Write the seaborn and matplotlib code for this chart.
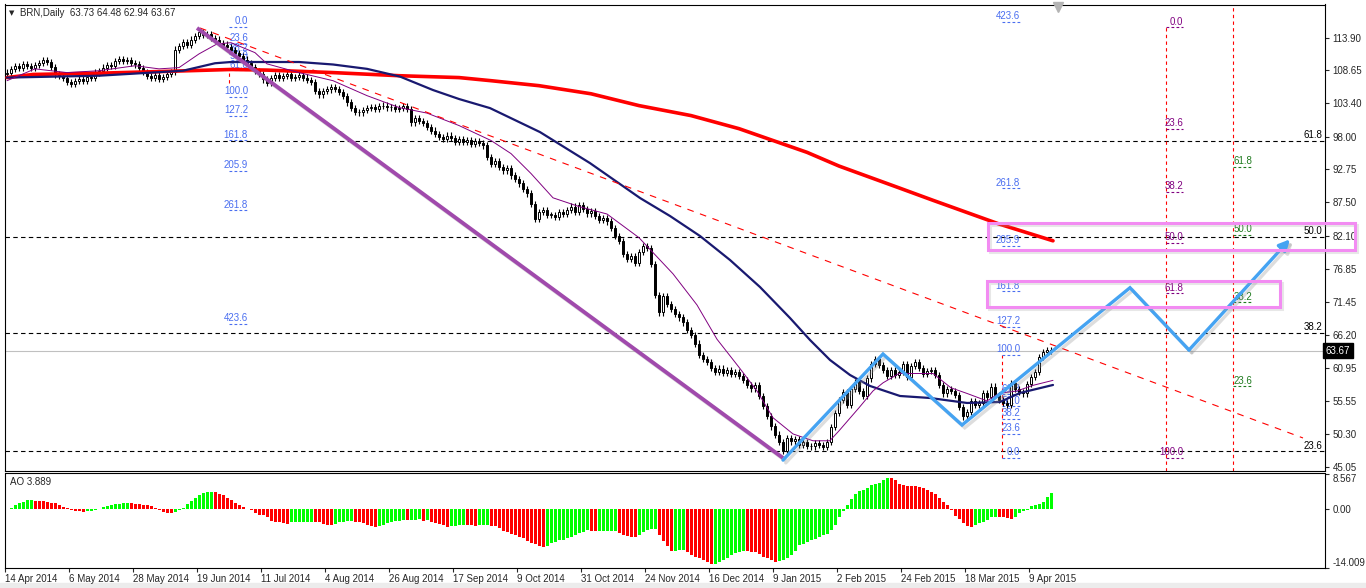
import numpy as np
import matplotlib
matplotlib.use("Agg")
import matplotlib.pyplot as plt
import matplotlib.patheffects as pe
from matplotlib.patches import Rectangle
from matplotlib.transforms import blended_transform_factory
import seaborn as sns

# ------------------ DATA ------------------
# daily closes (bar 0 = 14 Apr 2014), open of each bar = previous close
first_open = 108.1
closes = [
    108.3, 108.9, 109.4, 109.1, 109.6, 109.3, 109.0, 109.5, 109.8, 110.3, 110.0, 109.2, 108.0, 107.8, 107.4, 106.8,
    106.5, 106.9, 107.3, 107.0, 107.6, 107.4, 108.3, 108.6, 109.1, 109.5, 109.3, 110.2, 110.5, 110.1, 110.3, 109.9,
    109.6, 109.0, 108.4, 107.8, 107.5, 107.9, 107.3, 107.6, 108.1, 108.4, 112.0, 112.6, 113.2, 112.8, 113.6, 114.2,
    114.8, 114.3, 114.5, 113.9, 113.6, 113.0, 112.8, 112.4, 111.9, 111.5, 111.0, 110.4, 109.8, 109.2, 108.6, 108.1,
    107.2, 106.6, 107.4, 107.9, 107.5, 107.8, 108.0, 107.4, 107.6, 107.9, 107.5, 107.1, 106.8, 105.4, 104.8, 105.3,
    105.6, 106.0, 105.7, 105.2, 104.6, 103.5, 102.6, 102.0, 101.9, 102.3, 102.6, 102.8, 102.5, 102.9, 103.0, 102.7,
    102.8, 102.4, 102.6, 102.9, 102.5, 100.3, 101.0, 100.5, 100.2, 99.6, 99.0, 98.5, 98.0, 97.6, 98.2, 97.8,
    97.2, 97.6, 97.1, 97.5, 96.9, 97.3, 97.0, 96.6, 94.8, 93.6, 94.1, 93.2, 92.6, 93.0, 91.8, 91.2,
    90.5, 89.6, 88.9, 87.2, 84.8, 85.9, 86.3, 85.5, 85.5, 85.2, 85.9, 85.6, 86.3, 86.8, 86.0, 87.1,
    86.4, 85.7, 86.1, 85.3, 84.7, 85.0, 84.4, 83.4, 82.1, 81.3, 79.2, 78.4, 78.9, 77.8, 79.5, 80.4,
    80.1, 77.6, 72.6, 69.8, 72.4, 71.2, 70.4, 69.6, 69.0, 68.2, 67.0, 66.2, 64.8, 63.0, 62.3, 61.8,
    60.9, 60.2, 60.8, 60.1, 60.5, 59.9, 60.3, 59.6, 58.9, 58.2, 57.6, 58.1, 56.4, 54.8, 53.2, 51.5,
    50.2, 49.0, 47.6, 49.6, 49.1, 49.5, 48.6, 49.0, 48.4, 48.3, 48.9, 48.5, 48.2, 49.0, 51.4, 53.6,
    55.8, 57.0, 55.0, 57.5, 58.6, 57.2, 56.4, 59.2, 61.5, 62.3, 61.4, 60.6, 59.6, 60.5, 59.7, 60.3,
    61.5, 59.4, 61.2, 61.9, 60.9, 60.0, 60.4, 60.6, 59.7, 58.2, 56.8, 57.5, 57.2, 56.6, 54.6, 53.1,
    53.8, 55.6, 54.9, 55.3, 56.9, 56.2, 57.9, 56.5, 55.8, 55.3, 55.0, 58.4, 57.5, 57.0, 56.8,
    58.3, 59.4, 60.2, 62.6, 63.4, 63.73, 63.67,
]

# Awesome Oscillator, one value per bar
ao_values = [
    0.09, 0.37, 0.92, 1.38, 1.74, 2.11, 2.15, 2.02, 1.97, 1.93, 1.74, 1.56, 1.47, 1.10, 0.55, 0.28,
    -0.28, -0.46, -0.55, -0.73, -0.55, -0.50, -0.28, 0.05, 0.55, 0.87, 1.01, 1.19, 1.28, 1.38, 1.42, 1.38,
    1.28, 1.24, 1.10, 1.01, 0.73, 0.28, -0.25, -0.70, -0.90, -0.92, -0.65, -0.10, 0.35, 1.20, 1.90, 2.70,
    3.40, 3.90, 4.05, 4.10, 4.05, 3.75, 3.30, 2.80, 2.20, 1.60, 1.10, 0.60, 0.10, -0.20, -0.90, -1.30,
    -1.50, -2.00, -2.80, -3.00, -3.20, -3.40, -3.45, -3.20, -3.17, -3.14, -3.10, -3.05, -3.00, -3.10, -3.20, -3.55,
    -3.75, -3.80, -3.55, -3.20, -3.00, -2.95, -2.85, -3.00, -3.20, -3.40, -3.85, -4.00, -4.20, -4.10, -3.85, -3.40,
    -3.00, -2.85, -2.75, -2.65, -2.70, -2.60, -2.50, -2.45, -2.75, -2.70, -3.00, -3.40, -3.65, -3.85, -4.20, -4.15,
    -4.00, -3.85, -3.80, -3.85, -3.90, -3.95, -3.90, -3.85, -3.80, -3.95, -4.10, -4.60, -5.20, -5.60, -6.00, -6.20,
    -6.60, -7.00, -7.70, -8.10, -8.35, -8.80, -9.00, -8.95, -8.20, -7.80, -7.50, -7.35, -7.00, -6.60, -6.20, -5.80,
    -5.40, -5.05, -5.15, -5.30, -5.25, -5.22, -5.20, -5.18, -5.15, -5.70, -6.20, -6.50, -6.60, -6.80, -6.20, -5.40,
    -5.05, -4.85, -4.70, -6.20, -7.60, -8.80, -10.00, -9.95, -9.90, -9.85, -10.30, -10.90, -11.40, -11.80, -12.30, -12.70,
    -13.10, -13.05, -12.60, -12.10, -11.70, -11.00, -10.50, -10.20, -10.00, -10.10, -10.20, -10.35, -10.70, -11.40, -11.70, -12.10,
    -12.60, -12.50, -12.30, -11.70, -11.00, -10.10, -8.60, -8.35, -8.00, -7.50, -7.20, -6.80, -6.20, -6.00, -5.10, -3.85,
    -1.85, -0.35, 1.10, 2.55, 3.75, 4.30, 4.50, 5.00, 5.70, 5.95, 6.30, 7.05, 7.55, 7.45, 6.90, 5.95,
    5.70, 5.65, 5.55, 5.50, 5.30, 5.15, 4.70, 4.10, 3.60, 2.80, 1.75, 1.00, -0.10, -1.60, -2.45, -3.25,
    -4.00, -4.20, -3.80, -3.40, -3.00, -2.60, -2.00, -1.85, -1.90, -1.95, -2.20, -2.40, -1.80, -1.00, -0.50, -0.10,
    0.70, 0.95, 1.35, 1.75, 2.95, 3.889,
]

# moving averages (bar index, price)
red_ma_x = [0, 6.5, 23, 40, 56, 65, 81.5, 98, 113, 121, 133, 146, 158, 171, 183, 191.5, 200, 208, 223, 231.5, 248, 261.5]
red_ma_y = [107.5, 108.0, 108.2, 108.5, 108.8, 108.7, 108.3, 107.8, 107.5, 107.0, 106.2, 104.9, 103.0, 101.4, 99.3,
            97.4, 95.5, 93.3, 89.8, 87.8, 84.0, 81.3]
navy_ma_x = [0, 23, 44, 48, 52, 56, 62, 73, 81.5, 90, 98.25, 106.5, 113, 120.75, 133.25, 145.75, 158.25, 165.75,
             173.25, 180.75, 188.25, 195.75, 200.75, 205.75, 210.75, 215.75, 223.25, 230.75, 240, 248.25, 253.25,
             261.5]
navy_ma_y = [107.5, 107.8, 108.6, 109.2, 109.8, 110.0, 110.0, 110.0, 109.6, 108.9, 107.66, 105.5, 104.06, 102.6,
             98.75, 93.77, 88.17, 85.28, 82.07, 78.22, 73.88, 68.91, 65.38, 62.17, 59.76, 58.0, 56.39, 56.07, 55.27,
             55.43, 56.88, 58.16]
purple_ma_x = [0, 7, 15, 23, 32, 38, 43, 48, 52.5, 56, 62, 65, 73, 81.5, 90, 98, 105, 113, 121, 126, 131, 136.5, 143,
               150, 158, 166.5, 172.5, 177.5, 183, 187.5, 191.5, 196.5, 201.5, 205.7, 208, 213, 216.5, 219, 223,
               231.5, 236, 240, 245, 248, 252.5, 256.5, 261.5]
purple_ma_y = [107.0, 108.9, 108.3, 108.6, 109.4, 108.9, 109.1, 111.3, 112.9, 113.1, 111.5, 109.7, 108.3, 107.0,
               104.6, 102.7, 101.8, 99.8, 97.4, 95.3, 92.1, 88.2, 86.8, 85.6, 81.8, 76.0, 71.0, 65.5, 61.0, 57.2,
               52.9, 50.3, 49.2, 49.2, 50.8, 54.5, 57.2, 58.5, 60.0, 60.0, 57.7, 56.8, 55.6, 56.8, 57.2, 58.1, 58.9]

# drawn objects (bar index, price)
trend_x = [48.25, 324.0]
trend_y = [115.46, 49.65]
swing_x = [47.5, 194.0]
swing_y = [115.46, 46.44]
zigzag_x = [194.0, 219.0, 238.75, 280.75, 295.5, 320.75]
zigzag_y = [46.1, 63.13, 51.73, 73.77, 63.77, 81.54]
box_upper = [245.25, 337.0, 79.8, 84.13]   # x0, x1, y0, y1
box_lower = [245.0, 318.25, 70.68, 74.85]

# fibonacci tools: levels, price at 0 %, price at 100 %, x of start / end of label stub
fib_long = ["0.0", "23.6", "38.2", "50.0", "61.8", "100.0", "127.2", "161.8", "205.9", "261.8", "423.6"]
fib_short = ["0.0", "23.6", "38.2", "50.0", "61.8", "100.0"]
fib_mid = ["23.6", "38.2", "50.0", "61.8"]
fib_a = (115.62, 104.38, 55.5, 60.25)
fib_b = (46.44, 62.97, 248.7, 253.25)
fib_c = (115.57, 46.44, 289.7, 294.0)
fib_d = (36.16, 128.46, 306.5, 311.25)
fib_e = (16.7, 147.2)

date_bars = [0, 16, 32, 48, 64, 80, 96, 112, 128, 144, 160, 176, 192, 208, 224, 240, 256]
date_labels = ["14 Apr 2014", "6 May 2014", "28 May 2014", "19 Jun 2014", "11 Jul 2014", "4 Aug 2014",
               "26 Aug 2014", "17 Sep 2014", "9 Oct 2014", "31 Oct 2014", "24 Nov 2014", "16 Dec 2014",
               "9 Jan 2015", "2 Feb 2015", "24 Feb 2015", "18 Mar 2015", "9 Apr 2015"]
price_ticks = [113.90, 108.65, 103.40, 98.00, 92.75, 87.50, 82.10, 76.85, 71.45, 66.20, 60.95, 55.55, 50.30, 45.05]
price_labels = ["113.90", "108.65", "103.40", "98.00", "92.75", "87.50", "82.10", "76.85", "71.45", "66.20",
                "60.95", "55.55", "50.30", "45.05"]
ao_ticks = [8.567, 0.0, -14.009]
ao_labels = ["8.567", "0.00", "-14.009"]
last_price = 63.67

# ------------------ STYLE ------------------
sns.set_style("white")
plt.rcParams['font.family'] = ['Liberation Sans', 'DejaVu Sans']
plt.rcParams['font.size'] = 7

W, H = 1366, 588
fig = plt.figure(figsize=(W / 100, H / 100), dpi=100)
fig.patch.set_facecolor("white")


def fx(px):
    return px / W


def fy(py):
    return 1 - py / H


ax = fig.add_axes([fx(5), fy(471), fx(1325) - fx(5), fy(4.5) - fy(471)])
ax2 = fig.add_axes([fx(5), fy(567.5), fx(1325) - fx(5), fy(473.5) - fy(567.5)])

xmin, xmax = -0.5, 329.5
ax.set_xlim(xmin, xmax)
ax.set_ylim(44.35, 119.23)
ax2.set_xlim(xmin, xmax)
ax2.set_ylim(-14.009, 8.567)

for a in (ax, ax2):
    a.set_facecolor("white")
    for s in a.spines.values():
        s.set_color("black")
        s.set_linewidth(0.8)

shadow = [pe.SimpleLineShadow(offset=(2, -2), shadow_color="#909090", alpha=0.3), pe.Normal()]

# ------------------ LEVEL LINES ------------------
ax.axhline(last_price, color="#c0c0c0", lw=0.8, zorder=1)
for lab in fib_mid:
    p = fib_e[0] + float(lab) / 100 * (fib_e[1] - fib_e[0])
    ax.axhline(p, color="black", lw=0.8, ls=(0, (4, 3)), zorder=1)
    ax.annotate(lab, (328.8, p), xytext=(0, 0.5), textcoords="offset points",
                ha="right", va="bottom", color="black", zorder=2)

red_dash = (0, (3, 3))
ax.vlines(fib_a[2], 106.6, 108.7, color="red", lw=0.8, linestyles=[red_dash], zorder=1)
ax.vlines(fib_b[2], fib_b[0], fib_b[1], color="red", lw=0.8, linestyles=[red_dash], zorder=1)
ax.vlines(fib_c[2], 44.35, fib_c[0], color="red", lw=0.8, linestyles=[red_dash], zorder=1)
ax.vlines(fib_d[2], 44.35, 119.23, color="red", lw=0.8, linestyles=[red_dash], zorder=1)


def draw_fib(levels, tool, color):
    p0, p100, x0, x1 = tool
    for lab in levels:
        p = p0 + float(lab) / 100 * (p100 - p0)
        ax.hlines(p, x0, x1, color=color, lw=0.8, linestyles=[(0, (2.5, 2))], zorder=2)
        ax.annotate(lab, (x1, p), xytext=(0, 0.5), textcoords="offset points",
                    ha="right", va="bottom", color=color, zorder=2)


draw_fib(fib_long, fib_a, "#4a6ef0")
draw_fib(fib_long, fib_b, "#4a6ef0")
draw_fib(fib_short, fib_c, "#800080")
draw_fib(fib_mid, fib_d, "#1f7a1f")

# ------------------ CANDLES ------------------
c = np.array(closes)
o = np.concatenate([[first_open], c[:-1]])
x = np.arange(len(c))
lo = np.minimum(o, c)
hi = np.maximum(o, c)
up = c >= o
ax.vlines(x, lo - 0.5, hi + 0.5, color="black", lw=0.8, zorder=3)
ax.bar(x, np.maximum(hi - lo, 0.1), bottom=lo, width=0.72,
       color=np.where(up, "white", "black"), edgecolor="black", linewidth=0.7, zorder=4)

# ------------------ MOVING AVERAGES ------------------
sns.lineplot(x=red_ma_x, y=red_ma_y, ax=ax, color="#ff0000", linewidth=2.6, estimator=None, sort=False, zorder=5)
sns.lineplot(x=navy_ma_x, y=navy_ma_y, ax=ax, color="#191970", linewidth=1.6, estimator=None, sort=False, zorder=5)
sns.lineplot(x=purple_ma_x, y=purple_ma_y, ax=ax, color="#800080", linewidth=0.7, estimator=None, sort=False, zorder=5)

# ------------------ DRAWINGS ------------------
ax.plot(trend_x, trend_y, color="red", lw=0.8, ls=(0, (6, 6)), zorder=5)
ax.plot(swing_x, swing_y, color="#a04aac", lw=2.8, solid_capstyle="butt", path_effects=shadow, zorder=7)

blue = "#45a3f2"
ax.plot(zigzag_x[:-1], zigzag_y[:-1], color=blue, lw=2.4, solid_joinstyle="miter", path_effects=shadow, zorder=8)
arr = ax.annotate("", xy=(zigzag_x[-1], zigzag_y[-1]), xytext=(zigzag_x[-2], zigzag_y[-2]),
                  arrowprops=dict(arrowstyle="-|>,head_length=0.9,head_width=0.45", color=blue, lw=2.4,
                                  shrinkA=0, shrinkB=0), zorder=8)
arr.arrow_patch.set_path_effects(shadow)

box_shadow = [pe.SimpleLineShadow(offset=(1.5, -1.5), shadow_color="#a0a0a0", alpha=0.25), pe.Normal()]
for bx in (box_upper, box_lower):
    r = Rectangle((bx[0], bx[2]), bx[1] - bx[0], bx[3] - bx[2], fill=False, edgecolor="#f28cf2", lw=2.2,
                  clip_on=False, zorder=9, path_effects=box_shadow)
    ax.add_patch(r)

# ------------------ AXES / LABELS ------------------
ax.set_xticks([])
ax.yaxis.tick_right()
ax.set_yticks(price_ticks)
ax.set_yticklabels(price_labels)
ax.tick_params(axis="y", right=True, left=False, direction="out", length=3, width=0.8, pad=2.5, labelsize=7)

trans = blended_transform_factory(ax.transAxes, ax.transData)
ax.text(1.0007, last_price, "63.67", transform=trans, ha="left", va="center", color="white", fontsize=7,
        bbox=dict(boxstyle="square,pad=0.25", fc="black", ec="black"), clip_on=False, zorder=10)
ax.plot([262.75], [118.75], marker="v", ms=7, color="#b4b4b4", clip_on=False, zorder=10)

colors = ["#00ff00"] + ["#00ff00" if ao_values[i] > ao_values[i - 1] else "#ff0000" for i in range(1, len(ao_values))]
ax2.bar(np.arange(len(ao_values)), ao_values, width=0.75, color=colors, linewidth=0)

ax2.yaxis.tick_right()
ax2.set_yticks(ao_ticks)
ax2.set_yticklabels(ao_labels)
ax2.tick_params(axis="y", right=True, left=False, direction="out", length=3, width=0.8, pad=2.5, labelsize=7)
tl = ax2.get_yticklabels()
tl[0].set_va("top")
tl[2].set_va("bottom")
ax2.set_xticks([b - 0.5 for b in date_bars])
ax2.set_xticklabels(date_labels, ha="left")
ax2.tick_params(axis="x", bottom=True, direction="out", length=3, width=0.8, pad=2, labelsize=7)

fig.text(fx(9), fy(13), "\u25bc", fontsize=5, va="center", family="DejaVu Sans")
fig.text(fx(20), fy(13), "BRN,Daily  63.73 64.48 62.94 63.67", fontsize=7, va="center")
fig.text(fx(10), fy(482), "AO 3.889", fontsize=7, va="center")

fig.patches.append(Rectangle((0, 0), 1, 5 / H, transform=fig.transFigure, color="#ececec", zorder=-1))

fig.savefig("out.png", dpi=100)
